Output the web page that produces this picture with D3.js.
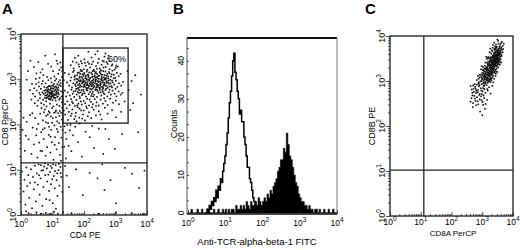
<!DOCTYPE html>
<html lang="en">
<head>
<meta charset="UTF-8">
<title>Flow cytometry panels</title>
<script src="https://cdn.jsdelivr.net/npm/d3@7"></script>
<style>
  body { margin: 0; background: #fff; }
  svg { display: block; font-family: "Liberation Sans", Arial, sans-serif; }
  .frame { fill: none; stroke: #1a1a1a; stroke-width: 1.3; }
  .cut { stroke: #222; stroke-width: 1.3; }
  .tick line { stroke: #222; stroke-width: 0.8; }
</style>
</head>
<body>
<script>
// all positions on fluorescence axes are log10 values * 100
const decades = [0, 1, 2, 3, 4];
const letters = ["A", "B", "C"];

// panel A: [CD4 PE, CD8 PerCP] pairs
const cd4cd8 = [
  182,352, 214,361, 247,345, 268,357, 278,352, 201,344, 236,355, 259,341, 265,350, 224,348, 190,340, 276,346, 302,330, 243,362, 171,347,
  158,331, 167,324, 176,337, 185,328, 193,335, 199,322, 206,330, 212,338, 219,326, 225,333, 231,321, 238,329, 244,336, 250,324, 256,332,
  263,339, 269,327, 275,334, 281,322, 288,330, 290,333, 301,325, 307,328, 164,339, 189,321, 216,334, 229,339, 253,320, 272,338, 297,321,
  183,333, 241,323, 262,326, 203,336, 281,340,
  152,311, 159,304, 165,316, 171,308, 176,301, 180,314, 186,306, 191,318, 195,302, 200,311, 205,305, 209,317, 214,309, 218,301, 223,314,
  227,306, 232,318, 236,303, 241,312, 245,307, 250,316, 254,300, 259,310, 263,304, 268,317, 272,308, 277,302, 281,313, 286,306, 290,319,
  295,310, 299,303, 304,314, 310,307, 316,312, 168,319, 178,309, 188,312, 198,307, 208,301, 216,315, 226,311, 234,308, 243,302, 252,313,
  261,318, 270,303, 279,316, 288,311, 139,314,
  146,293, 153,286, 157,297, 162,282, 166,291, 170,299, 174,285, 178,294, 182,281, 185,290, 189,298, 193,284, 196,293, 200,287, 203,296,
  207,281, 210,290, 214,299, 217,284, 221,293, 224,287, 228,297, 231,282, 235,291, 238,299, 242,285, 246,294, 249,281, 253,289, 256,298,
  260,283, 264,292, 267,286, 271,296, 275,281, 279,290, 283,299, 287,285, 291,293, 296,288, 301,297, 306,283, 311,291, 318,286, 324,294,
  172,288, 187,295, 199,283, 212,287, 226,291, 240,288, 251,295, 262,287, 276,293, 289,282, 180,300, 205,292, 233,285, 258,293, 136,298,
  148,271, 155,264, 160,277, 164,268, 169,261, 173,274, 177,266, 181,279, 186,262, 190,271, 194,265, 198,277, 202,269, 206,262, 211,275,
  215,267, 219,279, 223,263, 228,272, 232,266, 237,278, 241,261, 246,270, 250,276, 255,264, 260,273, 265,267, 270,279, 274,262, 279,271,
  285,266, 291,275, 297,268, 303,262, 310,273, 317,266, 184,270, 208,276, 225,268, 243,274, 262,269, 281,277, 167,273, 196,268, 229,262,
  253,271, 139,275, 143,262, 300,279, 322,270,
  147,251, 154,243, 159,256, 165,247, 171,241, 176,254, 182,246, 187,258, 193,244, 199,252, 204,247, 210,257, 216,242, 222,250, 228,245,
  234,256, 240,249, 247,242, 253,255, 260,246, 268,252, 275,243, 283,257, 292,248, 301,253, 311,245, 162,250, 190,251, 218,255, 238,241,
  264,258, 179,242, 207,240, 140,245, 329,251,
  145,236, 152,228, 158,219, 163,233, 169,212, 174,226, 180,238, 185,215, 191,231, 197,222, 203,209, 209,236, 216,227, 223,214, 231,233,
  238,220, 247,229, 256,211, 266,237, 275,224, 289,232, 302,216, 318,228, 149,210, 176,207, 199,231, 226,238, 252,222, 161,224, 186,235,
  212,218, 140,222, 136,231, 173,218, 194,213,
  183,297, 188,287, 192,305, 197,296, 202,289, 206,308, 211,294, 215,286, 220,303, 224,296, 229,288, 233,306, 237,295, 242,290, 247,301,
  251,286, 256,305, 260,296, 265,289, 269,300, 184,315, 193,291, 201,314, 209,299, 218,291, 227,318, 236,298, 244,283, 255,310, 266,301,
  274,312, 185,276, 199,273, 213,281, 227,279, 241,277, 255,283, 268,276, 281,284, 294,302,
  186,303, 190,296, 195,311, 199,294, 204,302, 208,287, 212,310, 217,297, 221,288, 226,305, 230,293, 235,313, 239,282, 244,296, 248,308,
  252,291, 257,302, 261,280, 266,309, 271,292, 176,292, 181,287, 187,283, 192,276, 198,299, 203,284, 209,279, 214,305, 219,272, 225,284,
  230,300, 236,276, 240,305, 246,287, 250,280, 258,277, 264,299, 272,285, 278,297, 284,291, 170,305, 175,279, 180,272, 194,318, 210,321,
  223,277, 238,316, 254,319, 277,306, 289,297,
  118,312, 124,298, 127,326, 121,287, 130,305, 116,334, 126,291, 131,318, 112,301, 122,321,
  72,268, 76,259, 79,276, 82,264, 85,283, 88,257, 90,271, 93,262, 95,279, 98,268, 100,254, 102,286, 105,265, 107,274, 109,259, 112,281,
  114,268, 117,262, 119,276, 121,255, 74,283, 80,251, 86,272, 91,285, 96,258, 101,273, 106,283, 110,253, 115,289, 120,267, 77,264, 83,273,
  89,264, 94,270, 99,263, 103,279, 108,267, 113,274, 118,282, 92,276, 97,274, 87,278, 104,260, 111,265, 84,260, 96,266, 100,280, 90,256,
  78,270, 81,281, 84,267, 87,262, 91,268, 94,283, 97,261, 100,270, 103,266, 106,258, 109,277, 112,270, 115,261, 118,271, 81,258, 88,285,
  93,255, 99,286, 105,290, 111,284, 116,278, 74,275, 85,276, 96,270, 102,263,
  45,262, 50,275, 54,253, 57,284, 61,266, 64,247, 66,290, 68,271, 70,255, 48,289, 52,241, 58,270, 63,279, 69,296, 73,244, 78,291, 81,240,
  87,298, 92,246, 97,293, 103,240, 108,297, 114,244, 119,294, 124,258, 127,273, 130,249, 126,285, 122,241, 129,262, 134,270, 132,256,
  60,258, 56,293, 42,280, 38,268, 33,255, 28,276, 35,290, 44,247, 65,236, 76,233, 88,229, 99,236, 111,231, 123,230, 131,237, 83,305,
  71,309, 95,302, 106,306, 59,303, 47,301,
  22,318, 41,327, 55,338, 68,322, 86,334, 102,318, 113,341, 30,341, 77,352, 96,328, 125,337, 18,299, 62,315, 108,355, 49,313,
  5,188, 12,142, 18,206, 24,167, 29,221, 33,135, 37,193, 41,156, 45,214, 48,176, 52,127, 55,201, 58,160, 61,224, 64,183, 67,141, 70,209,
  72,168, 75,192, 78,131, 80,219, 83,150, 86,203, 88,177, 91,226, 93,138, 96,188, 98,161, 101,214, 103,122, 106,198, 108,172, 110,228,
  113,145, 115,207, 117,184, 120,159, 122,219, 124,133, 126,195, 128,171, 130,211, 131,150, 118,225, 105,226, 95,218, 85,222, 73,227,
  111,216, 99,204, 89,195, 79,205, 69,189, 127,226, 121,203, 114,190, 107,155, 94,173, 62,142, 50,190, 36,225, 15,175, 8,215, 132,188, 127,120,
  138,196, 141,182, 144,168, 147,199, 151,153, 155,187, 160,141, 165,176, 172,195, 181,161, 193,129, 205,184, 218,172, 232,148, 247,191,
  261,135, 279,168, 298,146, 321,179, 143,125, 157,199, 186,202, 137,151, 226,197, 268,190,
  338,318, 342,276, 351,296, 356,247, 363,309, 372,183, 347,232, 381,266,
  3,96, 8,52, 11,78, 14,23, 17,105, 20,64, 23,88, 26,38, 29,71, 32,101, 35,15, 38,84, 41,57, 44,109, 47,30, 50,92, 53,67, 56,112, 59,45,
  62,81, 65,98, 68,20, 71,62, 74,107, 77,88, 80,35, 83,74, 86,111, 89,53, 92,95, 95,68, 98,104, 101,26, 104,86, 107,59, 110,110, 113,77,
  116,42, 119,99, 122,65, 125,106, 128,84, 131,51, 120,113, 108,97, 94,108, 82,103, 70,99, 115,92, 102,112, 87,89, 76,114, 63,110, 126,93,
  99,79, 111,14, 91,33, 57,88, 44,72, 16,8,
  24,4, 49,6, 64,3, 79,5, 93,2, 105,7, 117,3, 134,6, 160,4, 246,3, 301,5, 352,4, 389,2,
  140,108, 145,87, 152,62, 175,101, 196,44, 218,93, 243,81, 258,112, 284,77, 302,26, 330,104, 352,91, 375,60, 392,98, 265,55
];
const cutA = [133, 115];             // quadrant cut-offs [x, y]
const gateA = [133, 340, 203, 369];  // x0, x1, y0, y1
const gateText = "60%";

// panel B: histogram counts per channel (log10 start and width)
const countTicks = [0, 10, 20, 30, 40];
const isoStart = 0.45, isoStep = 0.03;
const isoCounts = [0, 0, 1, 0, 2, 1, 3, 2, 4, 3, 6, 4, 7, 6, 9, 8, 11, 13, 15, 18, 21, 25, 29, 32, 36, 40, 42, 37, 35, 32,
  30, 26, 27, 24, 24, 20, 18, 15, 12, 12, 9, 8, 6, 4, 3, 1, 0];
const tcrStart = 0, tcrStep = 0.04;
const tcrCounts = [0, 0, 1, 0, 0, 0, 1, 0, 0, 1, 0, 0, 0, 1, 0, 0, 0, 1, 0, 0, 1, 0, 0, 1, 0, 1, 0, 1, 0, 1,
  1, 0, 2, 1, 1, 2, 1, 2, 1, 3, 2, 1, 3, 2, 2, 3, 2, 4, 3, 2, 3, 4, 3, 5, 4, 6, 5, 7, 8, 9,
  11, 12, 14, 14, 17, 16, 21, 18, 15, 14, 12, 10, 8, 7, 5, 4, 3, 3, 2, 2, 1, 2, 1, 1, 0, 1, 1, 0, 1, 0,
  0, 1, 0, 0, 1, 0, 0, 1, 0, 0];

// panel C: [CD8A PerCP, CD8B PE] pairs
const cd8ab = [
  352,389, 361,384, 345,381, 367,378, 356,376, 339,385, 349,392, 364,387, 358,380, 342,377, 370,383, 353,383, 347,376, 362,375, 335,380,
  326,372, 333,366, 339,371, 344,360, 348,368, 352,357, 356,373, 360,363, 364,369, 337,358, 342,364, 346,374, 350,362, 354,367, 358,355,
  362,359, 366,364, 329,361, 335,356, 341,369, 345,356, 349,365, 353,371, 357,361, 361,372, 331,368, 338,362, 343,373, 347,358, 351,370,
  355,364, 359,368, 363,356, 368,371, 324,364, 340,357, 356,358, 345,366, 334,374, 350,355,
  310,341, 315,349, 318,337, 321,353, 324,344, 327,336, 329,350, 332,341, 334,355, 336,346, 338,338, 340,352, 342,343, 344,336, 346,349,
  348,340, 350,354, 352,345, 354,338, 356,351, 358,342, 313,354, 319,343, 323,339, 326,348, 330,345, 333,337, 335,351, 339,344, 341,355,
  343,339, 345,347, 347,353, 349,343, 351,337, 353,350, 355,344, 360,348, 316,340, 328,353, 337,342, 322,350, 331,339, 341,348, 346,341,
  351,350, 357,336, 336,354, 325,342, 343,351, 339,336, 349,347, 333,346, 317,352, 362,341,
  296,326, 300,318, 303,331, 306,322, 309,334, 311,316, 313,327, 316,320, 318,333, 320,324, 322,316, 324,329, 326,321, 328,334, 330,317,
  332,326, 334,332, 336,319, 338,328, 340,322, 342,334, 344,316, 346,327, 349,320, 352,330, 301,324, 305,316, 308,328, 312,321, 315,331,
  317,315, 319,327, 321,319, 323,335, 325,317, 327,326, 329,330, 331,322, 333,316, 335,328, 337,323, 339,333, 341,318, 343,325, 347,332,
  298,333, 314,324, 326,330, 335,324, 319,318, 330,328, 310,326, 324,323, 345,321, 304,325,
  282,302, 286,311, 289,297, 292,308, 295,314, 298,300, 301,306, 303,295, 306,312, 308,303, 310,298, 312,309, 314,301, 316,313, 318,296,
  320,305, 322,310, 324,299, 326,307, 328,314, 330,302, 333,309, 336,297, 339,305, 343,311, 288,305, 294,299, 297,309, 300,313, 304,302,
  307,307, 311,296, 313,304, 317,308, 319,300, 323,313, 327,298, 331,306, 335,312, 291,314, 305,297, 315,306, 325,303, 299,304, 309,311,
  266,281, 270,290, 273,276, 277,287, 280,273, 283,292, 286,280, 289,288, 292,271, 295,284, 298,293, 301,277, 304,289, 307,282, 310,274,
  314,291, 318,279, 322,286, 327,272, 333,289, 268,274, 275,293, 279,282, 285,275, 291,291, 297,279, 303,284, 309,294, 316,282, 262,289,
  272,283, 288,294, 299,271, 306,290, 281,278,
  265,262, 270,251, 274,267, 278,256, 283,264, 287,248, 292,259, 296,266, 301,253, 306,262, 311,249, 316,258, 268,268, 280,246, 290,269,
  298,257, 304,268, 276,261, 285,255, 262,254,
  293,232, 303,247, 269,242, 309,238, 300,224,
  305,320, 309,315, 313,330, 318,325, 322,338, 326,333, 330,343, 334,338, 338,350, 342,346, 346,358, 350,352, 354,363, 358,367, 344,370,
  340,362, 336,357, 332,352, 328,347, 324,340, 320,334, 316,328, 312,318, 308,312, 304,309, 329,322, 333,330, 337,335, 341,340, 345,344,
  349,358, 353,360, 347,363, 343,356, 339,347, 335,342, 331,335, 327,328, 323,321, 319,312, 315,305, 311,307, 321,316, 325,311, 329,318,
  348,334, 352,341, 356,347, 360,354, 357,359, 351,346, 347,349, 344,340, 340,331, 337,327, 333,320, 329,314, 326,304, 322,300, 318,302
];
const cutC = [110, 102];

const W = 520, H = 250;
const svg = d3.select("body").append("svg").attr("width", W).attr("height", H);

const pairs = arr => d3.range(0, arr.length, 2).map(i => [10 ** (arr[i] / 100), 10 ** (arr[i + 1] / 100)]);
const isDecade = v => Math.abs(Math.log10(v) - Math.round(Math.log10(v))) < 1e-6;

function supLabel(t) {
  t.append("tspan").text("10");
  t.append("tspan").attr("dy", -4).attr("font-size", 6.5).text(d => d);
}

function logX(g, x, yPos, dy, size) {
  const gx = g.append("g").attr("transform", `translate(0,${yPos})`)
    .call(d3.axisBottom(x).tickValues(x.ticks()).tickFormat("").tickSizeOuter(0).tickSizeInner(-2));
  gx.select(".domain").remove();
  gx.selectAll(".tick line").filter(isDecade).attr("y2", -4);
  g.append("g").selectAll("text").data(decades).join("text")
    .attr("x", d => x(10 ** d)).attr("y", yPos + dy)
    .attr("text-anchor", "middle").attr("font-size", size)
    .call(supLabel);
}

function logY(g, y, xPos) {
  const gy = g.append("g").attr("transform", `translate(${xPos},0)`)
    .call(d3.axisLeft(y).tickValues(y.ticks()).tickFormat("").tickSizeOuter(0).tickSizeInner(2));
  gy.select(".domain").remove();
  gy.selectAll(".tick line").filter(isDecade).attr("x2", -4);
  g.append("g").selectAll("text").data(decades).join("text")
    .attr("transform", d => `translate(${xPos - 5},${y(10 ** d)}) rotate(-90)`)
    .attr("text-anchor", "middle").attr("font-size", 9)
    .call(supLabel);
}

function dots(g, x, y, data) {
  g.append("g").selectAll("rect").data(pairs(data)).join("rect")
    .attr("x", d => x(d[0]) - 0.8).attr("y", d => y(d[1]) - 0.8)
    .attr("width", 1.6).attr("height", 1.6).attr("fill", "#0d0d0d");
}

function frame(g, x, y) {
  const [x0, x1] = x.range(), [y0, y1] = y.range();
  g.append("rect").attr("class", "frame")
    .attr("x", x0).attr("y", y1).attr("width", x1 - x0).attr("height", y0 - y1);
}

function cuts(g, x, y, c) {
  const [x0, x1] = x.range(), [y0, y1] = y.range();
  g.append("line").attr("class", "cut")
    .attr("x1", x(10 ** (c[0] / 100))).attr("x2", x(10 ** (c[0] / 100))).attr("y1", y0).attr("y2", y1);
  g.append("line").attr("class", "cut")
    .attr("x1", x0).attr("x2", x1).attr("y1", y(10 ** (c[1] / 100))).attr("y2", y(10 ** (c[1] / 100)));
}

function title(g, txt, px, py, rotate, size) {
  g.append("text").attr("text-anchor", "middle").attr("font-size", size || 9)
    .attr("transform", `translate(${px},${py})` + (rotate ? " rotate(-90)" : ""))
    .text(txt);
}

// panel letters
svg.selectAll(".letter").data(letters).join("text").attr("class", "letter")
  .attr("x", (d, i) => [2, 173, 365][i]).attr("y", 14)
  .attr("font-size", 15).attr("font-weight", "bold").text(d => d);

// ---- A
const gA = svg.append("g");
const xA = d3.scaleLog().domain([1, 1e4]).range([21, 147]);
const yA = d3.scaleLog().domain([1, 1e4]).range([215, 34]);
dots(gA, xA, yA, cd4cd8);
frame(gA, xA, yA);
cuts(gA, xA, yA, cutA);
gA.append("rect").attr("class", "frame")
  .attr("x", xA(10 ** (gateA[0] / 100))).attr("y", yA(10 ** (gateA[3] / 100)))
  .attr("width", xA(10 ** (gateA[1] / 100)) - xA(10 ** (gateA[0] / 100)))
  .attr("height", yA(10 ** (gateA[2] / 100)) - yA(10 ** (gateA[3] / 100)));
gA.append("text").attr("x", xA(10 ** (gateA[1] / 100)) - 2).attr("y", yA(10 ** (gateA[3] / 100)) + 14)
  .attr("text-anchor", "end").attr("font-size", 9).text(gateText);
logX(gA, xA, 215, 12, 9);
logY(gA, yA, 21);
title(gA, "CD4 PE", 85, 238, false, 8.5);
title(gA, "CD8 PerCP", 8, 122, true);

// ---- B
const gB = svg.append("g");
const xB = d3.scaleLog().domain([1, 1e4]).range([188, 337]);
const yB = d3.scaleLinear().domain([0, 46]).range([213, 38]);
const tcr = tcrCounts.map((c, i) => [10 ** (tcrStart + i * tcrStep), c]);
tcr.push([10 ** (tcrStart + tcrCounts.length * tcrStep), 0]);
const iso = isoCounts.map((c, i) => [10 ** (isoStart + i * isoStep), c]);
gB.append("path").datum(tcr)
  .attr("d", d3.area().curve(d3.curveStepAfter).x(d => xB(d[0])).y0(yB(0)).y1(d => yB(d[1])))
  .attr("fill", "#000").attr("stroke", "#000").attr("stroke-width", 0.6);
gB.append("path").datum(iso)
  .attr("d", d3.line().curve(d3.curveStepAfter).x(d => xB(d[0])).y(d => yB(d[1])))
  .attr("fill", "none").attr("stroke", "#000").attr("stroke-width", 1.5);
gB.append("line").attr("x1", 187).attr("x2", 337).attr("y1", 38).attr("y2", 38).attr("stroke", "#111").attr("stroke-width", 2);
gB.append("line").attr("x1", 337).attr("x2", 337).attr("y1", 38).attr("y2", 214).attr("stroke", "#777").attr("stroke-width", 1);
gB.append("line").attr("x1", 187).attr("x2", 187).attr("y1", 38).attr("y2", 214).attr("stroke", "#555").attr("stroke-width", 1);
gB.append("line").attr("x1", 187).attr("x2", 337).attr("y1", 214).attr("y2", 214).attr("stroke", "#111").attr("stroke-width", 1.5);
const gxB = gB.append("g").attr("transform", "translate(0,214)")
  .call(d3.axisBottom(xB).tickValues(xB.ticks()).tickFormat("").tickSizeOuter(0).tickSizeInner(-2));
gxB.select(".domain").remove();
gxB.selectAll(".tick line").filter(isDecade).attr("y2", -4);
gB.append("g").selectAll("text").data(decades).join("text")
  .attr("x", d => xB(10 ** d)).attr("y", 226).attr("text-anchor", "middle").attr("font-size", 8.5)
  .call(supLabel);
const gyB = gB.append("g").attr("transform", "translate(187,0)")
  .call(d3.axisRight(yB).tickValues(d3.range(0, 46, 10 / 3)).tickFormat("").tickSizeOuter(0).tickSize(2));
gyB.select(".domain").remove();
gB.append("g").selectAll("text").data(countTicks).join("text")
  .attr("transform", d => `translate(184,${yB(d)}) rotate(-90)`)
  .attr("text-anchor", "middle").attr("font-size", 8.5).text(d => d);
title(gB, "Anti-TCR-alpha-beta-1 FITC", 257, 245, false, 9.5);
title(gB, "Counts", 177, 124, true, 9);

// ---- C
const gC = svg.append("g");
const xC = d3.scaleLog().domain([1, 1e4]).range([390, 513]);
const yC = d3.scaleLog().domain([1, 1e4]).range([216, 36]);
dots(gC, xC, yC, cd8ab);
frame(gC, xC, yC);
cuts(gC, xC, yC, cutC);
logX(gC, xC, 216, 9, 8.5);
logY(gC, yC, 390);
title(gC, "CD8A PerCP", 453, 236, false, 8);
title(gC, "CD8B PE", 375, 126, true);
</script>
</body>
</html>
